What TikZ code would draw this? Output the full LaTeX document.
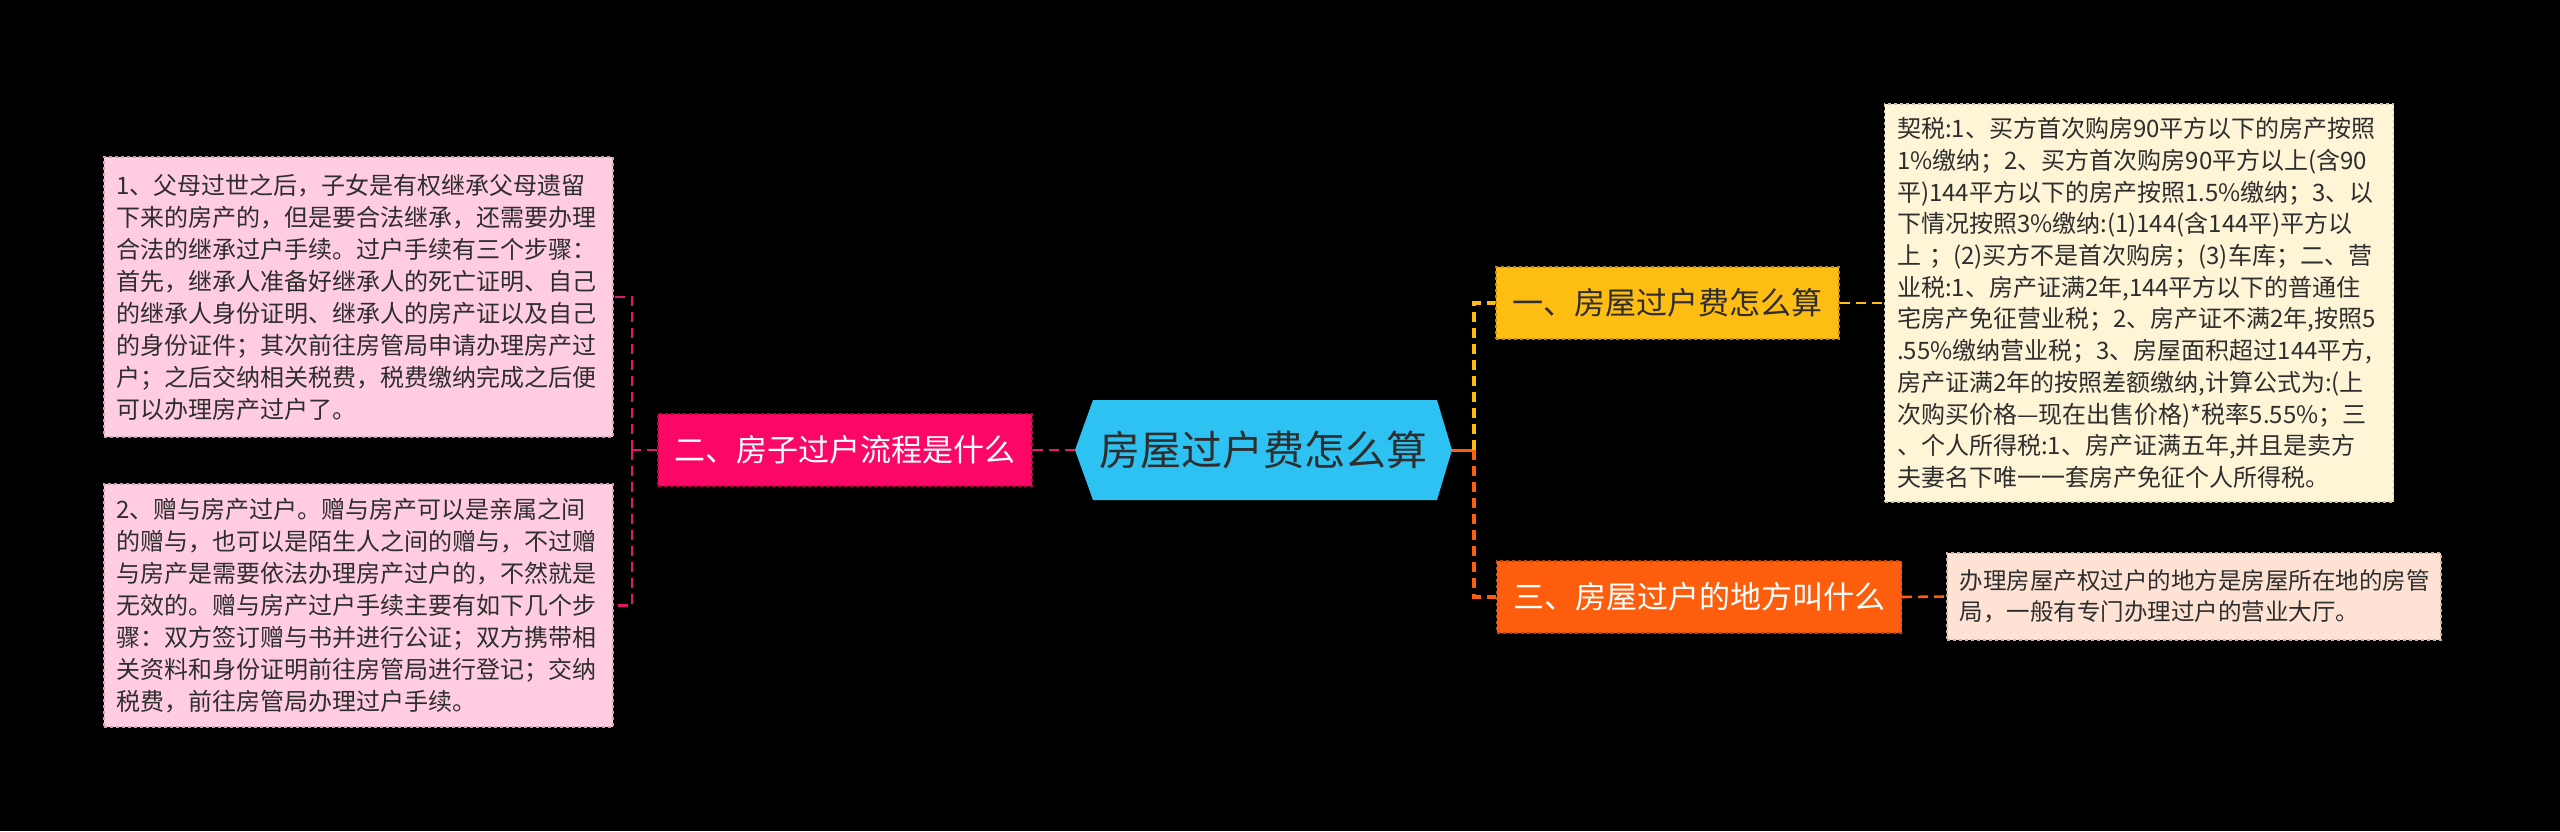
\documentclass[tikz,border=0pt]{standalone}
\usepackage{fontspec}
\setmainfont{Noto Sans CJK SC}
\usepackage{xcolor}
\usepackage{tikz}
\usetikzlibrary{positioning,calc}
\definecolor{rootblu}{HTML}{2DC2F2}
\definecolor{hotpink}{HTML}{FB0866}
\definecolor{pinkln}{HTML}{E0186A}
\definecolor{gold}{HTML}{FDBD13}
\definecolor{orng}{HTML}{FC5E0D}
\definecolor{rosebg}{HTML}{FFCCE1}
\definecolor{creambg}{HTML}{FEF5D7}
\definecolor{peachbg}{HTML}{FEE2D4}
\definecolor{inkdark}{HTML}{2E2E2E}

\begin{document}
\begin{tikzpicture}[x=1pt,y=-1pt,
  topic/.style={fill=#1,draw=#1!75!black,dashed,line width=1.2pt,minimum height=72pt,inner xsep=16.5pt,font=\fontsize{31}{36}\selectfont},
  note/.style={fill=#1,draw=#1!80!black,dashed,line width=1.2pt,text width=484pt,inner xsep=12.5pt,align=left,text=inkdark,font=\fontsize{24}{32}\selectfont},
  link/.style={#1,dash pattern=on 10pt off 6pt,line width=3.4pt}]
  \useasboundingbox (0,0) rectangle (2560,831);
  \fill[black] (0,0) rectangle (2560,831);

  \fill[rootblu] (1075,450)--(1093,400)--(1437,400)--(1452,450)--(1437,500)--(1093,500)--cycle;
  \node[minimum width=377pt,minimum height=100pt,inner sep=0pt,text=inkdark,font=\fontsize{41}{48}\selectfont] (root) at (1263.5,450) {房屋过户费怎么算};

  \node[topic=hotpink,text=white] (n2) at (845,450) {二、房子过户流程是什么};
  \node[topic=gold,text=inkdark] (n1) at (1667.5,303) {一、房屋过户费怎么算};
  \node[topic=orng,text=white] (n3) at (1699,597) {三、房屋过户的地方叫什么};

  \node[note=rosebg,minimum height=280pt] (d1) at (358.5,297) {1、父母过世之后，子女是有权继承父母遗留\\下来的房产的，但是要合法继承，还需要办理\\合法的继承过户手续。过户手续有三个步骤：\\首先，继承人准备好继承人的死亡证明、自己\\的继承人身份证明、继承人的房产证以及自己\\的身份证件；其次前往房管局申请办理房产过\\户；之后交纳相关税费，税费缴纳完成之后便\\可以办理房产过户了。};
  \node[note=rosebg,minimum height=243pt] (d2) at (358.5,605.5) {2、赠与房产过户。赠与房产可以是亲属之间\\的赠与，也可以是陌生人之间的赠与，不过赠\\与房产是需要依法办理房产过户的，不然就是\\无效的。赠与房产过户手续主要有如下几个步\\骤：双方签订赠与书并进行公证；双方携带相\\关资料和身份证明前往房管局进行登记；交纳\\税费，前往房管局办理过户手续。};
  \node[note=creambg,minimum height=398pt,font=\fontsize{24}{31.7}\selectfont] (c1) at (2139,303) {契税:1、买方首次购房90平方以下的房产按照\\1\%缴纳；2、买方首次购房90平方以上(含90\\平)144平方以下的房产按照1.5\%缴纳；3、以\\下情况按照3\%缴纳:(1)144(含144平)平方以\\上 ；(2)买方不是首次购房；(3)车库；二、营\\业税:1、房产证满2年,144平方以下的普通住\\宅房产免征营业税；2、房产证不满2年,按照5\\.55\%缴纳营业税；3、房屋面积超过144平方,\\房产证满2年的按照差额缴纳,计算公式为:(上\\次购买价格—现在出售价格)*税率5.55\%；三\\、个人所得税:1、房产证满五年,并且是卖方\\夫妻名下唯一一套房产免征个人所得税。};
  \node[note=peachbg,text width=469pt,minimum height=87pt,font=\fontsize{23.5}{31}\selectfont] (p1) at (2194,596.5) {办理房屋产权过户的地方是房屋所在地的房管\\局，一般有专门办理过户的营业大厅。};

  \coordinate (lj) at (632,450);
  \coordinate (rj) at (1474,450);
  \draw[link=pinkln,line width=2.6pt] (n2.east) -- (root.west);
  \draw[link=pinkln,line width=2.6pt] (n2.west) -- (lj);
  \draw[link=pinkln,line width=2.6pt] (lj) |- (d1.east);
  \draw[link=pinkln,line width=2.6pt] (lj) |- (d2.east);
  \draw[orng,line width=3pt] (root.east) -- (rj);
  \draw[link=gold] (rj) |- (n1.west);
  \draw[link=orng] (rj) |- (n3.west);
  \draw[link=gold,line width=2.6pt] (n1.east) -- (c1.west);
  \draw[link=orng,line width=2.6pt] (n3.east) -- (p1.west);
\end{tikzpicture}
\end{document}
